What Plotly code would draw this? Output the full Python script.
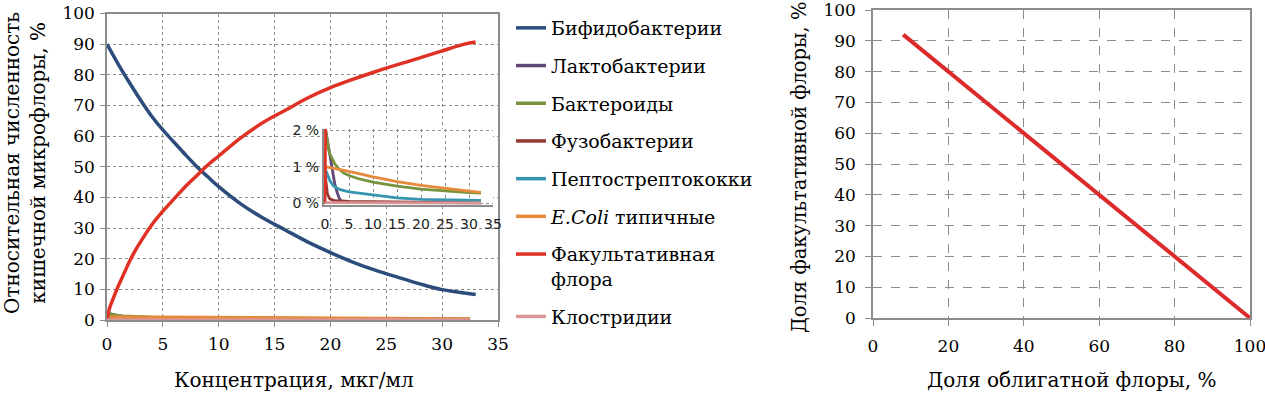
import plotly.graph_objects as go

# ---------------- data ----------------
conc_bif = [0, 1, 2, 3, 4, 5, 6, 7, 8, 9, 10, 12, 14, 16, 18, 20, 22, 24, 26, 28, 30, 32, 33]
bifido = [90, 83.5, 77.5, 71.8, 66.5, 62, 58, 54, 50.2, 46.8, 43.5, 37.8, 33.2, 29.3, 25.4, 22, 18.9, 16.3, 14, 11.8, 9.9, 8.8, 8.3]

conc_fak = [0, 0.2, 0.5, 1, 1.5, 2, 2.5, 3, 4, 5, 6, 7, 8, 9, 10, 12, 14, 16, 18, 20, 22, 24, 26, 28, 30, 32, 33]
fakult = [0, 3.5, 6.5, 11, 15, 19, 22.5, 25.5, 31, 35.5, 39.5, 43.5, 47, 50.5, 53.5, 59.5, 64.5, 68.5, 72.5, 75.8, 78.5, 81, 83.3, 85.5, 87.8, 90, 90.7]

conc_lakto = [0, 0.3, 0.6, 1, 1.5, 2, 2.5, 3, 3.5, 4, 6, 10, 15, 20, 25, 30, 32.5]
lakto = [2.1, 1.85, 1.6, 1.3, 0.9, 0.55, 0.3, 0.13, 0.05, 0.03, 0.02, 0.02, 0.02, 0.02, 0.01, 0.01, 0.01]

conc_bakt = [0, 0.3, 0.7, 1, 1.5, 2, 3, 4, 5, 7, 10, 12, 15, 20, 25, 30, 32.5]
bakter = [2.1, 1.8, 1.5, 1.35, 1.2, 1.08, 0.92, 0.82, 0.76, 0.67, 0.58, 0.53, 0.47, 0.39, 0.33, 0.29, 0.28]

conc_fuzo = [0, 0.2, 0.5, 1, 2, 5, 10, 15, 20, 25, 32.5]
fuzo = [0.8, 0.5, 0.25, 0.12, 0.07, 0.05, 0.04, 0.03, 0.02, 0.02, 0.01]

conc_pepto = [0, 0.5, 1, 1.7, 3, 5, 10, 15, 20, 25, 30, 32.5]
pepto = [0.95, 0.8, 0.62, 0.48, 0.38, 0.31, 0.22, 0.15, 0.11, 0.09, 0.08, 0.08]

conc_ecoli = [0, 2, 5, 10, 15, 20, 25, 30, 32.5]
ecoli = [1.0, 0.95, 0.87, 0.72, 0.59, 0.49, 0.4, 0.33, 0.3]

conc_klos = [0, 5, 10, 15, 20, 25, 30, 32.5]
klostr = [0.02, 0.02, 0.01, 0.01, 0.01, 0.01, 0.01, 0.01]

# right chart: facultative vs obligate share
obligate = [8, 20, 40, 60, 80, 100]
facultative = [92, 80, 60, 40, 20, 0]

inset_ticks = [0, 1, 2]
inset_ticktext = ["0 %", "1 %", "2 %"]

series = [
    ("Бифидобактерии", conc_bif, bifido, "#2C4D7C", "spline"),
    ("Лактобактерии", conc_lakto, lakto, "#60497A", "linear"),
    ("Бактероиды", conc_bakt, bakter, "#77933C", "linear"),
    ("Фузобактерии", conc_fuzo, fuzo, "#953735", "linear"),
    ("Пептострептококки", conc_pepto, pepto, "#3795B0", "linear"),
    ("<i>E.Coli</i> типичные", conc_ecoli, ecoli, "#E5893A", "linear"),
    ("Факультативная<br>флора", conc_fak, fakult, "#E03224", "spline"),
    ("Клостридии", conc_klos, klostr, "#D99694", "linear"),
]

SERIF = "DejaVu Serif"
SANS = "DejaVu Sans"
GRID = "#8c8c8c"
W, H = 1265, 393

fig = go.Figure()

for i, (name, xs, ys, col, shape) in enumerate(series):
    fig.add_trace(go.Scatter(
        x=xs, y=ys, mode="lines", name=name, legendgroup=f"g{i}",
        line=dict(color=col, width=3.5, shape=shape),
        xaxis="x", yaxis="y", showlegend=True))

for i, (name, xs, ys, col, shape) in enumerate(series):
    fig.add_trace(go.Scatter(
        x=xs, y=ys, mode="lines", name=name, legendgroup=f"g{i}",
        line=dict(color=col, width=2.8, shape=shape),
        xaxis="x3", yaxis="y3", showlegend=False, hoverinfo="skip"))

fig.add_trace(go.Scatter(
    x=obligate, y=facultative, mode="lines", name="Факультативная флора",
    line=dict(color="#DD2A2A", width=4), xaxis="x2", yaxis="y2", showlegend=False))

def px_x(p):
    return p / W

def px_y(p):
    return (H - p) / H

tickfont = dict(family=SERIF, size=17, color="black")

common = dict(showgrid=True, gridcolor=GRID, gridwidth=1, showline=True,
              linecolor=GRID, linewidth=1.5, zeroline=False, automargin=False,
              ticklabeloverflow="allow")

fig.update_layout(
    width=W, height=H,
    margin=dict(l=0, r=0, t=0, b=0, autoexpand=False),
    paper_bgcolor="white", plot_bgcolor="white",
    showlegend=True,
    legend=dict(
        x=px_x(511), y=px_y(9), xanchor="left", yanchor="top",
        font=dict(family=SERIF, size=19, color="black"),
        tracegroupgap=10, valign="top", bgcolor="rgba(0,0,0,0)"),
    xaxis=dict(
        domain=[px_x(107), px_x(498)], range=[0, 35], dtick=5, tick0=0,
        griddash="dot", mirror=True, ticks="outside", ticklen=5, tickcolor=GRID,
        tickfont=tickfont, anchor="y", ticklabelstandoff=3, **common),
    yaxis=dict(
        domain=[px_y(320), px_y(13.5)], range=[0, 100], dtick=10, tick0=0,
        griddash="dot", mirror=True, ticks="outside", ticklen=5, tickcolor=GRID,
        tickfont=tickfont, anchor="x", ticklabelstandoff=2, **common),
    xaxis2=dict(
        domain=[px_x(873), px_x(1250)], range=[0, 100], dtick=20, tick0=0,
        griddash="dash", mirror=True, ticks="outside", ticklen=6, tickcolor=GRID,
        tickfont=tickfont, anchor="y2", ticklabelstandoff=6, **common),
    yaxis2=dict(
        domain=[px_y(318), px_y(10)], range=[0, 100], dtick=10, tick0=0,
        griddash="dash", mirror=True, ticks="outside", ticklen=6, tickcolor=GRID,
        tickfont=tickfont, anchor="x2", ticklabelstandoff=6, **common),
    xaxis3=dict(
        domain=[px_x(323.6), px_x(493)], range=[-0.3, 35], dtick=5, tick0=0,
        griddash="dot", mirror=False, ticks="", anchor="y3",
        tickfont=dict(family=SANS, size=14, color="#222"),
        ticklabelstandoff=6, **common),
    yaxis3=dict(
        domain=[px_y(204.8), px_y(128.9)], range=[-0.04, 2.03],
        tickvals=inset_ticks, ticktext=inset_ticktext,
        griddash="dot", mirror=False, ticks="", anchor="x3",
        tickfont=dict(family=SANS, size=14, color="#222"), **common),
)

# white backing panel for the inset (covers main grid)
fig.add_shape(type="rect", xref="x3 domain", yref="y3 domain",
              x0=-0.22, x1=1.05, y0=-0.5, y1=1.16,
              fillcolor="white", line=dict(width=0), layer="below")

title_font = dict(family=SERIF, size=20, color="black")
fig.add_annotation(text="Относительная численность<br>кишечной микрофлоры, %",
                   x=px_x(25), y=px_y(163), xref="paper", yref="paper",
                   textangle=-90, showarrow=False, font=title_font,
                   xanchor="center", yanchor="middle")
fig.add_annotation(text="Концентрация, мкг/мл", x=px_x(294), y=px_y(380),
                   xref="paper", yref="paper", showarrow=False, font=title_font,
                   xanchor="center", yanchor="middle")
fig.add_annotation(text="Доля факультативной флоры, %", x=px_x(799), y=px_y(168),
                   xref="paper", yref="paper", textangle=-90, showarrow=False,
                   font=dict(family=SERIF, size=19.5, color="black"),
                   xanchor="center", yanchor="middle")
fig.add_annotation(text="Доля облигатной флоры, %", x=px_x(1071), y=px_y(380),
                   xref="paper", yref="paper", showarrow=False, font=title_font,
                   xanchor="center", yanchor="middle")

fig.write_html("out.html",
               config={"displayModeBar": False},
               post_script="document.body.style.margin='0';document.body.style.overflow='hidden';")
